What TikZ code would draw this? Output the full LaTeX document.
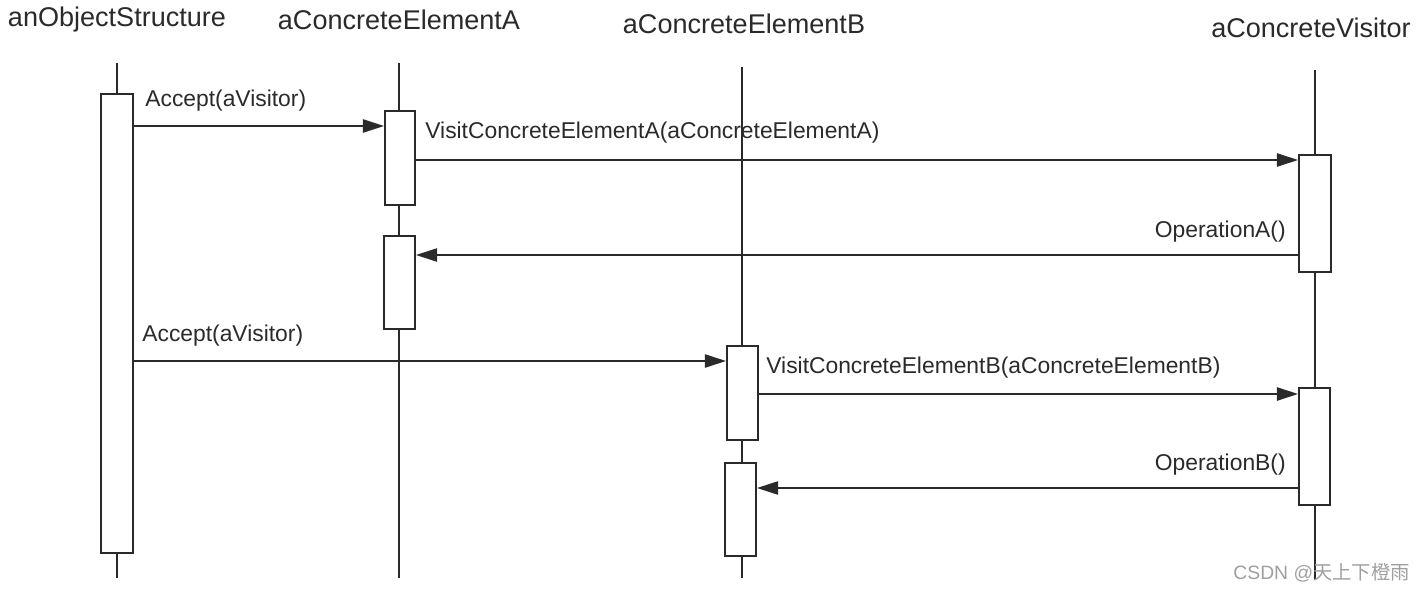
\documentclass[tikz,border=0pt]{standalone}
\usepackage{fontspec}
\setmainfont{Liberation Sans}
\newfontfamily\cjkfont{Noto Sans CJK SC}
\usetikzlibrary{arrows.meta}
\definecolor{ink}{HTML}{2A2A2A}
\tikzset{
  lifeline/.style={draw=ink, line width=1pt},
  actbox/.style={draw=ink, fill=white, line width=1.1pt, inner sep=0pt},
  msg/.style={draw=ink, line width=1pt, -{Triangle[length=12pt, width=7.5pt]}},
  head/.style={text=ink, font=\fontsize{15.4}{17}\selectfont},
  lbl/.style={text=ink, font=\fontsize{13}{15}\selectfont, inner sep=0pt}
}
\begin{document}
\begin{tikzpicture}[x=0.02cm, y=-0.02cm]
      \useasboundingbox (0, 0) rectangle (1425, 591);

      \node[head] (hos) at (117, 20) {anObjectStructure};
      \node[head] (hea) at (399, 20) {aConcreteElementA};
      \node[head] (heb) at (744, 24) {aConcreteElementB};
      \node[head] (hv) at (1311, 28) {aConcreteVisitor};

      \draw[lifeline] (117, 63) -- (117, 578);
      \draw[lifeline] (399, 63) -- (399, 578);
      \draw[lifeline] (742, 67) -- (742, 578);
      \draw[lifeline] (1315, 70) -- (1315, 580);

      \node[actbox, minimum width=0.64cm, minimum height=9.18cm] (os) at (117, 323.5) {};
      \node[actbox, minimum width=0.6cm, minimum height=1.88cm] (ea1) at (400, 158) {};
      \node[actbox, minimum width=0.62cm, minimum height=1.86cm] (ea2) at (399.5, 282.5) {};
      \node[actbox, minimum width=0.62cm, minimum height=1.88cm] (eb1) at (742.5, 393) {};
      \node[actbox, minimum width=0.62cm, minimum height=1.86cm] (eb2) at (740.5, 509.5) {};
      \node[actbox, minimum width=0.64cm, minimum height=2.34cm] (v1) at (1315, 213.5) {};
      \node[actbox, minimum width=0.62cm, minimum height=2.34cm] (v2) at (1314.5, 446.5) {};

      \coordinate (m1) at (0, 126);
      \coordinate (m2) at (0, 160);
      \coordinate (m3) at (0, 255);
      \coordinate (m4) at (0, 361);
      \coordinate (m5) at (0, 394);
      \coordinate (m6) at (0, 488);

      \draw[msg] (os.east |- m1) -- (ea1.west |- m1);
      \draw[msg] (ea1.east |- m2) -- (v1.west |- m2);
      \draw[msg] (v1.west |- m3) -- (ea2.east |- m3);
      \draw[msg] (os.east |- m4) -- (eb1.west |- m4);
      \draw[msg] (eb1.east |- m5) -- (v2.west |- m5);
      \draw[msg] (v2.west |- m6) -- (eb2.east |- m6);

      \node[lbl, anchor=west] (l1) at (145, 101) {Accept(aVisitor)};
      \node[lbl, anchor=west] (l2) at (425, 133) {VisitConcreteElementA(aConcreteElementA)};
      \node[lbl, anchor=east] (l3) at (1286, 232) {OperationA()};
      \node[lbl, anchor=west] (l4) at (142, 336) {Accept(aVisitor)};
      \node[lbl, anchor=west] (l5) at (766, 368) {VisitConcreteElementB(aConcreteElementB)};
      \node[lbl, anchor=east] (l6) at (1286, 465) {OperationB()};

      \node[anchor=east, text=gray!75, font=\fontsize{11}{13}\selectfont] (wm) at (1416, 573) {CSDN @{\cjkfont 天上下橙雨}};
    \end{tikzpicture}
\end{document}
